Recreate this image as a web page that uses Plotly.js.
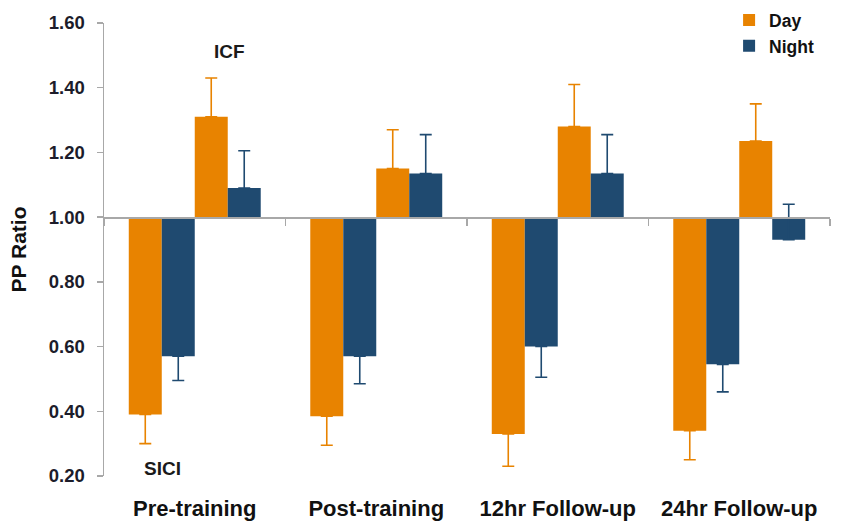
<!DOCTYPE html>
<html>
<head>
<meta charset="utf-8">
<script src="https://cdn.plot.ly/plotly-3.0.1.min.js"></script>
<style>
  html, body { margin: 0; padding: 0; background: #ffffff; }
  #chart { width: 843px; height: 527px; }
</style>
</head>
<body>
<div id="chart"></div>
<script>
// Paired-pulse ratio by session: SICI (inhibition, below 1) and ICF (facilitation, above 1)
const sessions = ['Pre-training', 'Post-training', '12hr Follow-up', '24hr Follow-up'];

const siciDay   = [0.39, 0.385, 0.33, 0.34];
const siciNight = [0.57, 0.57, 0.60, 0.545];
const icfDay    = [1.31, 1.15, 1.28, 1.235];
const icfNight  = [1.09, 1.135, 1.135, 0.93];

const siciDayErr   = [0.09, 0.09, 0.10, 0.09];
const siciNightErr = [0.075, 0.085, 0.095, 0.085];
const icfDayErr    = [0.12, 0.12, 0.13, 0.115];
const icfNightErr  = [0.115, 0.12, 0.12, 0.11];

const BASELINE = 1.0;
const Y_RANGE = [0.2, 1.6];

const ORANGE = '#E88300';
const NAVY = '#1F4A70';
const AXIS_GRAY = '#A8A8A8';
const FONT = 'Liberation Sans, Arial, sans-serif';

// Bars hang from the 1.0 baseline; error bars extend away from it
function pairedBar(name, values, errs, color, below, showLegend) {
  return {
    type: 'bar',
    name: name,
    legendgroup: name,
    showlegend: showLegend,
    x: sessions,
    y: values.map(v => v - BASELINE),
    base: BASELINE,
    marker: { color: color, line: { width: 0 } },
    error_y: {
      type: 'data',
      symmetric: false,
      array: below ? values.map(() => 0) : errs,
      arrayminus: below ? errs : values.map(() => 0),
      color: color,
      thickness: 1.6,
      width: 6
    },
    hovertemplate: '%{x}<br>' + name + ': %{customdata:.2f}<extra></extra>',
    customdata: values
  };
}

const traces = [
  pairedBar('Day', siciDay, siciDayErr, ORANGE, true, true),
  pairedBar('Night', siciNight, siciNightErr, NAVY, true, true),
  pairedBar('Day', icfDay, icfDayErr, ORANGE, false, false),
  pairedBar('Night', icfNight, icfNightErr, NAVY, false, false)
];

const baselinePos = (BASELINE - Y_RANGE[0]) / (Y_RANGE[1] - Y_RANGE[0]);

const layout = {
  width: 843,
  height: 527,
  margin: { l: 104, r: 13, t: 23, b: 51, autoexpand: false },
  paper_bgcolor: '#ffffff',
  plot_bgcolor: '#ffffff',
  barmode: 'group',
  bargap: 0.273,
  bargroupgap: 0,
  font: { family: FONT, color: '#1a1a1a' },
  xaxis: {
    type: 'category',
    categoryorder: 'array',
    categoryarray: sessions,
    range: [-0.5, sessions.length - 0.5],
    anchor: 'free',
    position: baselinePos,
    showline: true,
    linecolor: AXIS_GRAY,
    linewidth: 1.5,
    ticks: 'outside',
    tickson: 'boundaries',
    ticklen: 7,
    tickwidth: 1.5,
    tickcolor: AXIS_GRAY,
    showgrid: false,
    zeroline: false,
    ticklabelstandoff: 271,
    tickfont: { family: FONT, size: 22, color: '#111111', weight: 'bold' },
    automargin: false,
    fixedrange: true
  },
  yaxis: {
    range: Y_RANGE,
    tickmode: 'linear',
    tick0: 0.2,
    dtick: 0.2,
    tickformat: '.2f',
    showline: true,
    linecolor: AXIS_GRAY,
    linewidth: 1.5,
    ticks: 'outside',
    ticklen: 6,
    tickwidth: 1.5,
    tickcolor: AXIS_GRAY,
    showgrid: false,
    zeroline: false,
    ticklabelstandoff: 8,
    tickfont: { family: FONT, size: 18.5, color: '#1c1c2a', weight: 'bold' },
    title: {
      text: 'PP Ratio',
      font: { family: FONT, size: 21, color: '#111111', weight: 'bold' },
      standoff: 16
    },
    automargin: false,
    fixedrange: true
  },
  legend: {
    x: 0.861,
    y: 1.046,
    xanchor: 'left',
    yanchor: 'top',
    bgcolor: 'rgba(0,0,0,0)',
    font: { family: FONT, size: 17.5, color: '#111111', weight: 'bold' },
    tracegroupgap: 0,
    itemwidth: 30
  },
  annotations: [
    {
      x: 0.19, xref: 'x', y: 1.513, yref: 'y',
      text: 'ICF', showarrow: false,
      font: { family: FONT, size: 19, color: '#1a1a1a', weight: 'bold' }
    },
    {
      x: -0.176, xref: 'x', y: 0.223, yref: 'y',
      text: 'SICI', showarrow: false,
      font: { family: FONT, size: 19, color: '#1a1a1a', weight: 'bold' }
    }
  ],
  showlegend: true
};

Plotly.newPlot('chart', traces, layout, { displayModeBar: false, staticPlot: true });
</script>
</body>
</html>
